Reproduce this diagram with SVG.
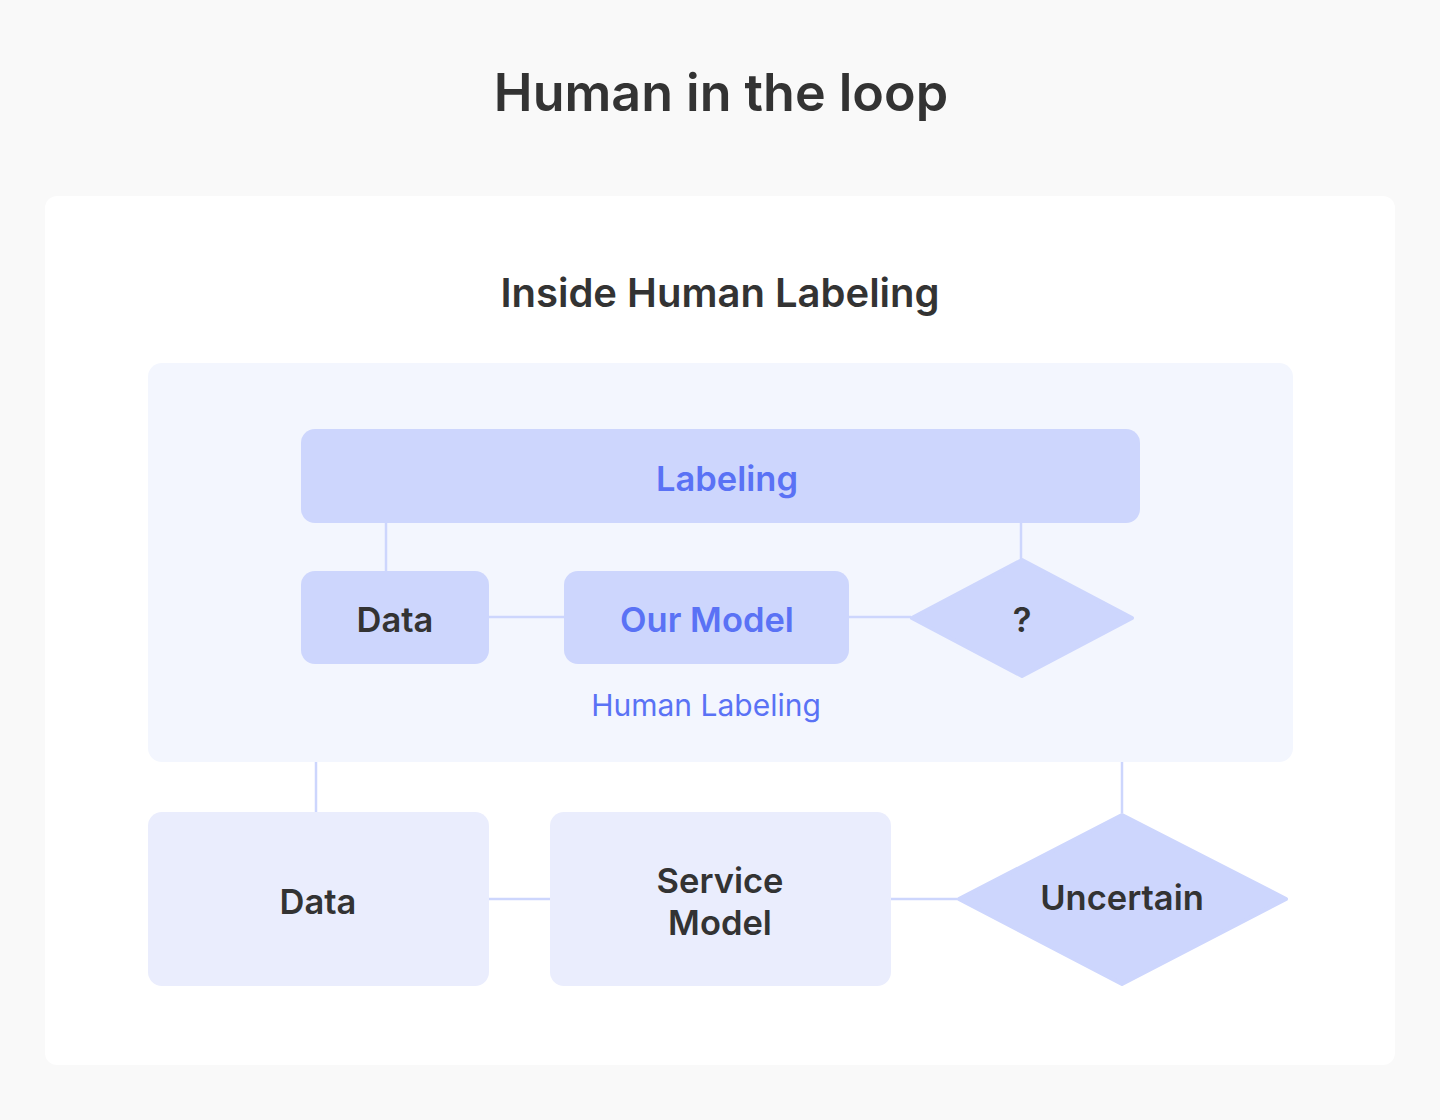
<svg xmlns="http://www.w3.org/2000/svg" width="1440" height="1120" viewBox="0 0 1440 1120">
<style>
.t{font-family:Inter,"Noto Sans","Liberation Sans",sans-serif;text-anchor:middle;dominant-baseline:central}
.h{font-weight:600;font-size:34.5px;fill:#333333}
.b{fill:#5a72f5}
.n1{fill:#cdd6fd}
.n2{fill:#eaedfd}
.c{stroke:#cdd6fd;stroke-width:2.5;fill:none}
</style>
<rect x="0" y="0" width="1440" height="1120" fill="#f9f9f9"/>
<text class="t" x="721" y="92" style="font-size:52px;font-weight:600;fill:#333333">Human in the loop</text>
<rect x="45" y="196" width="1350" height="869" rx="12" fill="#ffffff"/>
<text class="t" x="720" y="292" style="font-size:40px;font-weight:600;fill:#333333">Inside Human Labeling</text>
<g id="human-labeling">
<rect x="148" y="363" width="1145" height="399" rx="14" fill="#f3f6fe"/>
<text class="t" x="706" y="705" style="font-size:30px;fill:#5a72f5">Human Labeling</text>
</g>
<g id="connectors">
<path class="c" d="M386 523V571M489 617H564M849 617H911M1021 523V559"/>
<path class="c" d="M316 762V812M489 899H550M891 899H957M1122 762V813"/>
</g>
<g id="labeling">
<rect class="n1" x="301" y="429" width="839" height="94" rx="14"/>
<text class="t h b" x="727" y="478">Labeling</text>
</g>
<g id="data-inner">
<rect class="n1" x="301" y="571" width="188" height="93" rx="14"/>
<text class="t h" x="395" y="619">Data</text>
</g>
<g id="our-model">
<rect class="n1" x="564" y="571" width="285" height="93" rx="14"/>
<text class="t h b" x="707" y="619">Our Model</text>
</g>
<g id="question">
<polygon class="n1" points="1022,560 1132,618 1022,676 912,618" stroke="#cdd6fd" stroke-width="4" stroke-linejoin="round"/>
<text class="t h" x="1022" y="619">?</text>
</g>
<g id="data-outer">
<rect class="n2" x="148" y="812" width="341" height="174" rx="14"/>
<text class="t h" x="318" y="901">Data</text>
</g>
<g id="service-model">
<rect class="n2" x="550" y="812" width="341" height="174" rx="14"/>
<text class="t h" x="720" y="880">Service</text>
<text class="t h" x="720" y="922">Model</text>
</g>
<g id="uncertain">
<polygon class="n1" points="1122,815 1286,899 1122,984 959,899" stroke="#cdd6fd" stroke-width="4" stroke-linejoin="round"/>
<text class="t h" x="1122" y="897">Uncertain</text>
</g>
</svg>
